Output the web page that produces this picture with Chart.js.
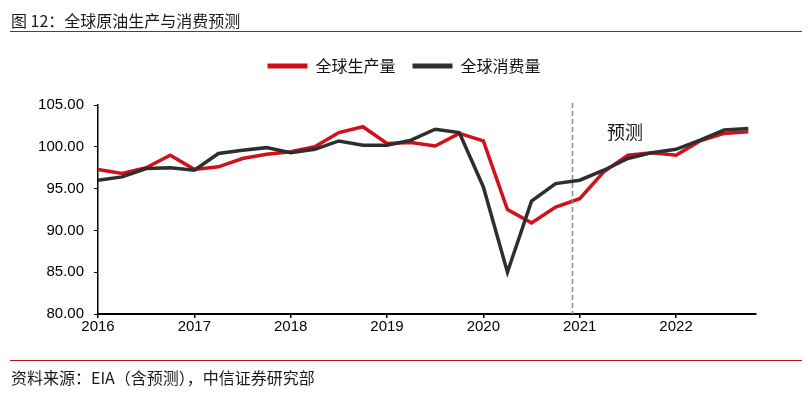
<!DOCTYPE html>
<html><head><meta charset="utf-8">
<script src="https://cdn.jsdelivr.net/npm/chart.js@4/dist/chart.umd.min.js"></script>
<style>
html,body{margin:0;padding:0;background:#fff;}
#wrap{position:relative;width:808px;height:400px;overflow:hidden;font-family:"Noto Sans CJK SC","Noto Sans",sans-serif;}
#title{position:absolute;left:11px;top:9px;font-size:16px;color:#1a1a1a;line-height:22px;white-space:nowrap;}
#rule1{position:absolute;left:10px;top:31px;width:792px;height:1px;background:#b5121b;}
#rule2{position:absolute;left:10px;top:360px;width:792px;height:1px;background:#b5121b;}
#source{position:absolute;left:11px;top:366px;font-size:16px;color:#1a1a1a;line-height:22px;white-space:nowrap;}
#c{position:absolute;left:0;top:0;}
</style></head>
<body><div id="wrap">
<canvas id="c" width="808" height="400"></canvas>
<div id="title">图 12：全球原油生产与消费预测</div>
<div id="rule1"></div>
<div id="rule2"></div>
<div id="source">资料来源：EIA（含预测），中信证券研究部</div>
</div>
<script>
const quarters = [2016.00,2016.25,2016.50,2016.75,2017.00,2017.25,2017.50,2017.75,2018.00,2018.25,2018.50,2018.75,2019.00,2019.25,2019.50,2019.75,2020.00,2020.25,2020.50,2020.75,2021.00,2021.25,2021.50,2021.75,2022.00,2022.25,2022.50,2022.75];
const production = [97.3,96.8,97.5,99.0, 97.3,97.6,98.6,99.1, 99.4,100.0,101.7,102.4, 100.4,100.5,100.1,101.6, 100.7,92.5,90.9,92.8, 93.8,97.0,99.0,99.3, 99.0,100.7,101.6,101.8];
const consumption = [96.0,96.4,97.4,97.5, 97.2,99.2,99.6,99.9, 99.3,99.7,100.7,100.2, 100.2,100.8,102.1,101.7, 95.2,85.0,93.5,95.6, 96.0,97.2,98.6,99.3, 99.7,100.8,102.0,102.2];
const seriesNames = ['全球生产量','全球消费量'];
const forecastStart = 2020.92;
const forecastLabel = '预测';
const forecastLabelPos = {x: 2021.47, y: 101.8};
const yTicks = [80,85,90,95,100,105];

const numFont = '"Liberation Sans", Arial, sans-serif';
const cjkFont = '"Noto Sans CJK SC", sans-serif';

const forecastPlugin = {
  id: 'forecast',
  afterDatasetsDraw(chart) {
    const {ctx, chartArea, scales} = chart;
    const x = Math.round(scales.x.getPixelForValue(forecastStart)) + 0.5;
    ctx.save();
    ctx.strokeStyle = '#8a8a8a';
    ctx.lineWidth = 1.5;
    ctx.setLineDash([5,3]);
    ctx.beginPath();
    ctx.moveTo(x, chartArea.top - 2);
    ctx.lineTo(x, chartArea.bottom);
    ctx.stroke();
    ctx.setLineDash([]);
    ctx.fillStyle = '#1a1a1a';
    ctx.font = '18px ' + cjkFont;
    ctx.textAlign = 'center';
    ctx.textBaseline = 'middle';
    ctx.fillText(forecastLabel, scales.x.getPixelForValue(forecastLabelPos.x), scales.y.getPixelForValue(forecastLabelPos.y));
    ctx.restore();
  }
};

new Chart(document.getElementById('c'), {
  type: 'line',
  data: {
    datasets: [
      {label: seriesNames[0], data: quarters.map((q,i)=>({x:q, y:production[i]})), borderColor:'#d2101c', backgroundColor:'#d2101c', borderWidth:3.5, pointRadius:0, tension:0, order:2},
      {label: seriesNames[1], data: quarters.map((q,i)=>({x:q, y:consumption[i]})), borderColor:'#2e2e2e', backgroundColor:'#2e2e2e', borderWidth:3.5, pointRadius:0, tension:0, order:1}
    ]
  },
  options: {
    responsive: false,
    animation: false,
    devicePixelRatio: 1,
    layout: {padding: {left: 0, right: 0, top: 41, bottom: 0}},
    plugins: {
      tooltip: {enabled: false},
      legend: {
        display: true, position: 'top', align: 'center',
        labels: {
          boxWidth: 40, boxHeight: 5, padding: 17,
          font: {family: cjkFont, size: 16}, color: '#111',
          generateLabels: (chart) => chart.data.datasets.map((d,i)=>({text:d.label, fillStyle:d.borderColor, strokeStyle:d.borderColor, lineWidth:0, hidden:false, datasetIndex:i, fontColor:'#111'}))
        }
      }
    },
    scales: {
      x: {
        type: 'linear', min: 2016, max: 2022.83, position: 'bottom',
        afterFit: (s) => { s.height = 86; },
        border: {display: true, color: '#000', width: 2},
        grid: {display: true, drawOnChartArea: false, drawTicks: true, tickLength: 4, color: '#000', lineWidth: 1.5},
        ticks: {stepSize: 1, includeBounds: false, padding: 0, color: '#000', font: {family: numFont, size: 15}, maxRotation: 0, autoSkip: false,
          callback: (v) => Number.isInteger(v) ? String(v) : ''}
      },
      xTop: {
        type: 'linear', position: 'top', display: true,
        afterFit: (s) => { s.height = 21; },
        border: {display: false}, grid: {display: false}, ticks: {display: false}
      },
      y: {
        type: 'linear', min: 80, max: 105, position: 'left',
        afterFit: (s) => { s.width = 98; },
        border: {display: true, color: '#000', width: 1.5},
        grid: {display: true, drawOnChartArea: false, drawTicks: true, tickLength: 4, color: '#000', lineWidth: 1},
        afterBuildTicks: (s) => { s.ticks = yTicks.map(v=>({value:v})); },
        ticks: {padding: 10, color: '#000', font: {family: numFont, size: 15}, callback: (v) => Number(v).toFixed(2)}
      },
      yRight: {
        type: 'linear', position: 'right', display: true,
        afterFit: (s) => { s.width = 52; },
        border: {display: false}, grid: {display: false}, ticks: {display: false}
      }
    }
  },
  plugins: [forecastPlugin]
});
</script>
</body></html>
